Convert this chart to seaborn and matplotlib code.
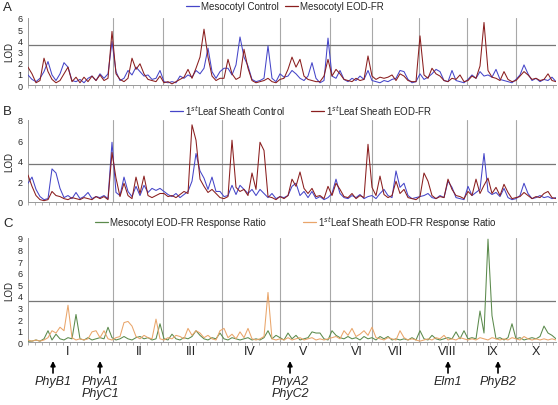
import numpy as np
import pandas as pd
import matplotlib
matplotlib.use("Agg")
import matplotlib.pyplot as plt
import seaborn as sns
from matplotlib.lines import Line2D

# ──────────────────────────────────────────────
# DATA  (marker index along the genome, LOD)
# ──────────────────────────────────────────────
chrom_bounds = [21.2, 33.7, 48.4, 63.0, 75.5, 85.9, 97.8, 109.7, 122.0]
chrom_labels = ["I", "II", "III", "IV", "V", "VI", "VII", "VIII", "IX", "X"]
chrom_label_pos = [10, 27.75, 40.75, 55.5, 68.75, 82.25, 91.75, 104.75, 116.25, 127]

gene_names = ["PhyB1", "PhyA1\nPhyC1", "PhyA2\nPhyC2", "Elm1", "PhyB2"]
gene_pos = [6.25, 18, 65.5, 105, 117.5]

threshold = [3.6, 3.65, 3.6]

meso_ctrl = [0.9, 0.5, 0.3, 0.6, 1.2, 2.1, 0.9, 0.4, 1.0, 2.0, 1.6, 0.4, 0.3, 0.5, 0.2, 0.6,
             0.8, 0.4, 1.0, 0.6, 1.0, 3.9, 1.2, 0.4, 0.6, 1.3, 0.9, 1.6, 1.2, 0.8, 0.9, 0.5,
             0.6, 1.3, 0.3, 0.2, 0.3, 0.2, 0.8, 0.6, 0.9, 0.7, 1.3, 1.0, 1.5, 3.3, 1.2, 0.6,
             1.2, 1.5, 1.5, 0.9, 1.8, 4.3, 2.5, 1.7, 0.5, 0.3, 0.4, 0.6, 3.5, 0.6, 0.3, 1.0,
             0.7, 0.8, 1.3, 1.0, 0.6, 0.4, 0.8, 2.0, 0.6, 0.2, 0.4, 4.2, 0.8, 0.6, 1.3, 0.5,
             0.3, 0.6, 0.4, 0.8, 0.5, 1.3, 0.4, 0.3, 0.2, 0.4, 0.3, 0.5, 0.6, 1.3, 1.2, 0.5,
             0.2, 0.3, 1.0, 0.5, 0.7, 1.0, 1.4, 1.2, 0.4, 0.3, 1.3, 0.4, 0.3, 0.2, 0.5, 0.9,
             0.6, 1.2, 0.8, 0.9, 0.7, 1.4, 0.5, 0.4, 0.3, 0.2, 0.5, 0.9, 1.8, 1.0, 0.4, 0.6,
             0.3, 0.5, 0.4, 0.7, 0.3]
meso_eod = [1.6, 1.0, 0.2, 0.4, 2.4, 1.2, 0.5, 0.2, 0.4, 1.0, 1.6, 0.3, 0.7, 0.2, 0.7, 0.3,
            0.8, 0.4, 0.9, 0.4, 0.6, 4.8, 1.0, 0.5, 0.3, 0.6, 2.4, 1.4, 1.9, 1.0, 0.5, 0.4,
            0.3, 0.8, 0.2, 0.3, 0.1, 0.3, 0.5, 0.7, 1.4, 0.6, 1.5, 2.5, 5.0, 2.5, 0.8, 0.4,
            0.6, 0.6, 2.3, 1.0, 0.5, 0.7, 3.2, 1.5, 0.4, 0.2, 0.3, 0.4, 0.6, 0.3, 0.2, 0.5,
            0.6, 1.4, 2.5, 1.6, 2.3, 0.8, 0.5, 0.4, 0.3, 0.3, 0.8, 2.3, 0.8, 1.4, 1.0, 0.5,
            0.4, 0.3, 0.6, 0.4, 0.5, 2.6, 0.8, 0.5, 0.7, 0.6, 0.7, 0.9, 0.4, 1.0, 0.8, 0.4,
            0.3, 0.3, 4.4, 0.9, 0.6, 1.5, 1.0, 0.8, 0.4, 0.3, 0.6, 0.5, 0.9, 0.3, 0.4, 0.8,
            0.6, 1.7, 5.6, 1.3, 0.7, 0.6, 0.4, 1.2, 0.5, 0.3, 0.4, 0.8, 1.2, 0.9, 0.5, 0.6,
            0.4, 0.5, 1.0, 0.4, 0.3]

leaf_ctrl = [1.8, 2.4, 1.2, 0.5, 0.2, 0.3, 3.2, 2.8, 1.3, 0.4, 0.6, 0.3, 0.9, 0.3, 0.5, 0.9,
             0.3, 0.5, 0.4, 0.6, 0.3, 5.8, 0.9, 0.6, 2.4, 1.0, 0.5, 1.5, 0.6, 1.6, 0.9, 1.3,
             1.1, 1.3, 1.0, 0.7, 0.5, 0.8, 0.4, 0.7, 1.0, 2.0, 4.7, 3.0, 2.3, 1.2, 2.4, 1.0,
             1.0, 0.5, 0.6, 1.6, 0.7, 1.6, 1.2, 0.8, 1.2, 0.6, 1.2, 0.8, 0.4, 0.8, 0.3, 0.5,
             0.4, 0.6, 1.5, 1.8, 0.6, 1.0, 0.4, 1.0, 0.3, 0.5, 0.2, 0.4, 0.8, 2.2, 0.8, 0.4,
             0.3, 0.6, 0.4, 0.7, 0.3, 0.5, 0.6, 0.3, 0.8, 1.2, 0.6, 0.4, 3.0, 1.4, 1.8, 0.6,
             0.3, 0.4, 0.5, 0.6, 0.8, 0.4, 0.3, 0.6, 0.4, 2.0, 1.4, 0.4, 0.3, 0.2, 1.5, 0.6,
             0.9, 1.2, 4.7, 1.0, 0.7, 0.9, 0.5, 1.3, 0.4, 0.2, 0.3, 0.6, 1.8, 0.8, 0.3, 0.4,
             0.6, 0.4, 0.5, 0.3, 0.4]
leaf_eod = [2.6, 1.5, 0.6, 0.2, 0.1, 0.2, 1.0, 0.6, 0.5, 0.3, 0.2, 0.4, 0.3, 0.2, 0.4, 0.3,
            0.2, 0.5, 0.3, 0.5, 0.2, 4.8, 2.3, 0.5, 1.8, 0.6, 0.3, 2.4, 0.8, 2.5, 0.6, 0.4,
            0.6, 0.8, 0.8, 0.5, 0.6, 0.4, 0.7, 1.0, 0.8, 7.5, 6.0, 2.2, 1.5, 0.9, 1.2, 0.8,
            0.4, 0.3, 0.5, 6.0, 1.4, 1.0, 1.2, 0.6, 2.8, 1.2, 5.8, 5.0, 0.5, 0.4, 0.2, 0.5,
            0.3, 0.6, 2.2, 1.5, 2.9, 1.3, 0.8, 1.3, 0.5, 0.6, 0.3, 1.5, 0.6, 1.8, 1.2, 0.5,
            0.4, 0.8, 0.3, 0.6, 0.4, 5.6, 1.4, 0.6, 2.5, 0.7, 0.4, 0.6, 2.0, 0.8, 1.2, 0.4,
            0.3, 0.2, 0.5, 2.8, 2.0, 0.6, 0.3, 0.5, 0.4, 2.2, 1.2, 0.6, 0.5, 0.3, 1.0, 0.6,
            2.2, 0.8, 1.6, 2.3, 0.8, 1.4, 0.6, 1.7, 0.9, 0.3, 0.4, 0.5, 0.9, 0.6, 0.3, 0.5,
            0.4, 0.8, 1.0, 0.4, 0.3]

meso_ratio = [0.1, 0.1, 0.2, 0.1, 0.3, 1.0, 0.2, 0.7, 0.3, 0.2, 0.4, 0.3, 2.4, 0.3, 0.2, 0.4,
              0.2, 0.3, 0.4, 0.3, 1.3, 0.4, 0.2, 0.3, 0.5, 0.3, 0.2, 0.4, 0.5, 0.3, 0.4, 0.2,
              0.3, 1.6, 0.3, 0.2, 0.7, 0.3, 0.2, 0.4, 0.3, 0.5, 1.0, 0.6, 0.3, 0.2, 0.4, 0.3,
              0.8, 0.3, 0.2, 0.4, 0.3, 0.2, 0.3, 0.4, 0.2, 0.3, 0.2, 0.4, 1.0, 0.3, 0.6, 0.4,
              0.2, 0.8, 0.3, 0.6, 0.2, 0.3, 0.4, 0.9, 0.8, 0.8, 0.3, 0.2, 1.0, 0.6, 0.4, 0.3,
              0.5, 0.3, 0.4, 0.2, 0.5, 0.3, 0.4, 0.2, 0.5, 0.3, 0.5, 0.2, 0.3, 0.2, 0.3, 0.2,
              0.4, 0.2, 1.0, 0.3, 0.2, 0.6, 0.3, 0.2, 0.3, 0.4, 0.3, 0.9, 0.3, 1.0, 0.3, 0.4,
              0.3, 2.7, 0.8, 8.9, 2.3, 0.3, 0.4, 0.2, 0.4, 1.6, 0.3, 0.4, 0.2, 0.3, 0.4, 0.3,
              0.5, 1.4, 0.8, 0.6, 0.3]
leaf_ratio = [0.2, 0.1, 0.2, 0.1, 0.2, 0.4, 1.0, 0.8, 1.3, 1.0, 3.2, 0.4, 0.2, 0.3, 0.2, 0.3,
              0.9, 1.0, 0.4, 1.0, 0.3, 0.2, 0.4, 0.5, 1.7, 1.8, 1.4, 0.5, 0.3, 0.6, 0.4, 0.3,
              2.0, 0.3, 0.2, 0.4, 0.3, 0.6, 0.5, 0.3, 1.2, 0.6, 1.0, 0.8, 0.4, 0.6, 0.3, 0.2,
              1.0, 1.2, 0.4, 0.7, 0.3, 0.9, 0.4, 1.2, 0.3, 0.2, 0.3, 0.5, 4.3, 0.3, 0.2, 0.3,
              0.2, 0.4, 0.2, 0.3, 0.4, 0.2, 0.3, 0.4, 0.2, 0.3, 0.2, 0.3, 0.4, 0.5, 0.3, 1.0,
              0.6, 1.2, 0.5, 0.7, 1.0, 0.6, 1.3, 0.4, 0.3, 0.2, 0.4, 0.3, 0.2, 1.0, 0.4, 0.2,
              0.3, 0.2, 0.1, 0.2, 0.3, 0.2, 0.4, 0.3, 0.6, 0.2, 0.3, 0.2, 0.4, 0.3, 0.2, 0.3,
              0.2, 0.4, 0.3, 0.2, 0.4, 0.3, 0.2, 0.3, 0.2, 0.4, 0.3, 0.2, 0.5, 0.3, 0.2, 0.3,
              0.2, 0.3, 0.2, 0.3, 0.2]

marker = np.arange(len(meso_ctrl))

# ──────────────────────────────────────────────
# STYLE
# ──────────────────────────────────────────────
sns.set_style("white")
plt.rcParams["font.family"] = ["Liberation Sans", "DejaVu Sans"]
plt.rcParams["mathtext.fontset"] = "custom"
plt.rcParams["mathtext.rm"] = "Liberation Sans"

BLUE, RED = "#4545c8", "#8a1e1e"
GREEN, ORANGE = "#5b8a4c", "#e9a56a"

W, H = 558, 406
fig = plt.figure(figsize=(W / 100, H / 100), dpi=100)


def px_box(left, top, right, bottom):
    return [left / W, 1 - bottom / H, (right - left) / W, (bottom - top) / H]


panels = [
    dict(box=px_box(28, 19, 556, 86), ymax=6, yticks=range(0, 7), letter="A",
         series=[("Mesocotyl Control", meso_ctrl, BLUE), ("Mesocotyl EOD-FR", meso_eod, RED)],
         leg_y=7, leg_x=[186, 285]),
    dict(box=px_box(28, 120.7, 556, 202.7), ymax=8, yticks=range(0, 9, 2), letter="B",
         series=[("1$^{st}$Leaf Sheath Control", leaf_ctrl, BLUE),
                 ("1$^{st}$Leaf Sheath EOD-FR", leaf_eod, RED)],
         leg_y=111, leg_x=[170, 311]),
    dict(box=px_box(28, 239, 556, 343.3), ymax=9, yticks=range(0, 10), letter="C",
         series=[("Mesocotyl EOD-FR Response Ratio", meso_ratio, GREEN),
                 ("1$^{st}$Leaf Sheath EOD-FR Response Ratio", leaf_ratio, ORANGE)],
         leg_y=223, leg_x=[95, 303]),
]

axes = []
for k, p in enumerate(panels):
    ax = fig.add_axes(p["box"])
    axes.append(ax)
    for b in chrom_bounds:
        ax.axvline(b, color="#a8a8a8", lw=0.8, zorder=1)
    ax.axhline(threshold[k], color="#777777", lw=0.9, zorder=1)

    for name, vals, col in p["series"]:
        df = pd.DataFrame({"marker": marker, "LOD": vals})
        sns.lineplot(data=df, x="marker", y="LOD", ax=ax, color=col, lw=0.75, zorder=3)

    ax.set_xlim(0, len(marker) - 1)
    ax.set_ylim(0, p["ymax"])
    ax.set_yticks(list(p["yticks"]))
    ax.set_xticks(np.arange(0, len(marker), 1.75))
    ax.set_xticklabels([])
    ax.set_xlabel("")
    ax.set_ylabel("LOD", fontsize=7, labelpad=2)
    ax.tick_params(axis="y", labelsize=6.5, length=2, width=0.6, color="#888888", pad=2)
    ax.tick_params(axis="x", length=2, width=0.5, color="#999999", bottom=True)
    sns.despine(ax=ax)
    for s in ["left", "bottom"]:
        ax.spines[s].set_color("#999999")
        ax.spines[s].set_linewidth(0.7)

    fig.text(3 / W, 1 - (p["leg_y"] + 1) / H, p["letter"], fontsize=9.5, va="center", ha="left")

    # legend entries, one per series
    for (name, vals, col), lx in zip(p["series"], p["leg_x"]):
        fig.legend([Line2D([], [], color=col, lw=0.9)], [name], loc="center left",
                   bbox_to_anchor=(lx / W, 1 - p["leg_y"] / H), frameon=False,
                   fontsize=7, handlelength=1.35, handletextpad=0.2,
                   borderpad=0, borderaxespad=0)

# chromosome numbers and candidate genes under panel C
ax_c = axes[2]
for lab, x in zip(chrom_labels, chrom_label_pos):
    ax_c.annotate(lab, xy=(x, 1 - 352 / H), xycoords=("data", "figure fraction"),
                  ha="center", va="center", fontsize=9)

for g, x in zip(gene_names, gene_pos):
    ax_c.annotate("", xy=(x, 1 - 362 / H), xycoords=("data", "figure fraction"),
                  xytext=(x, 1 - 374 / H), textcoords=("data", "figure fraction"),
                  arrowprops=dict(arrowstyle="-|>", color="black", lw=1.2,
                                  mutation_scale=7, shrinkA=0, shrinkB=0))
    ax_c.annotate(g, xy=(x, 1 - 376 / H), xycoords=("data", "figure fraction"),
                  ha="center", va="top", fontsize=9, style="italic", linespacing=1.0)

fig.savefig("out.png", dpi=100)
